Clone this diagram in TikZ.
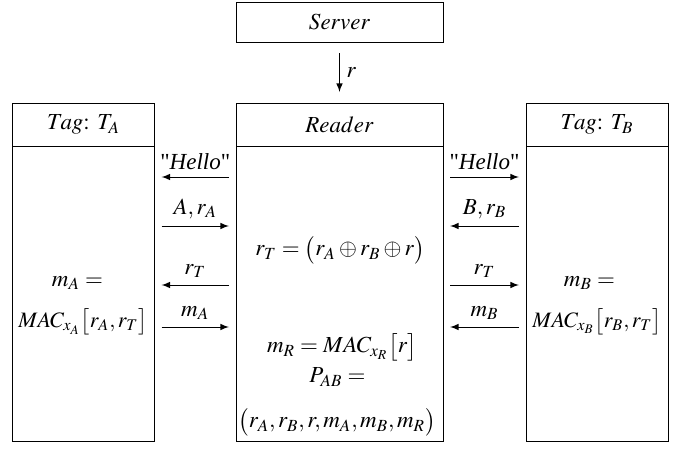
\documentclass[tikz,border=0pt]{standalone}
\usepackage{mathptmx}
\usepackage[no-math]{fontspec}
\setmainfont{Liberation Serif}
\newfontfamily\quotefont{Liberation Serif}
\usetikzlibrary{positioning, arrows.meta}

\newcommand{\hellomsg}{{\quotefont"}\textit{Hello}{\quotefont"}}

\tikzset{
  box/.style={draw, line width=.5pt, minimum width=103.5pt, inner sep=0pt, outer sep=0pt},
  tagbox/.style={box, minimum width=71pt},
  head/.style={minimum height=21.5pt},
  eqn/.style={inner sep=0pt},
  msg/.style={->, line width=.5pt, shorten >=3.5pt, shorten <=3.5pt}
}

\begin{document}
\begin{tikzpicture}[>=latex, x=.5pt, y=-.5pt, font=\fontsize{11.5}{13}\selectfont]
\useasboundingbox (0,0) rectangle (686,450);
\node[box, minimum height=20pt] (server) at (339.5,22) {$Server$};
\node[box, head] (rdHead) at (339.5,124.5) {$Reader$};
\node[box, minimum height=147.5pt, below=0pt of rdHead] (rdBody) {};
\node[tagbox, head] (tagA) at (83.5,124.5) {$Tag{:}\;\, T_A$};
\node[tagbox, minimum height=147.5pt, below=0pt of tagA] (bodyA) {};
\node[tagbox, head] (tagB) at (597,124.5) {$Tag{:}\;\, T_B$};
\node[tagbox, minimum height=147.5pt, below=0pt of tagB] (bodyB) {};

\draw[msg, shorten >=5.5pt, shorten <=5.5pt] (server) -- (rdHead) node[midway, right] {$r$};

% reader <-> tag A
\draw[msg] (rdBody.west |- 0,177) -- (bodyA.east |- 0,177) node[midway, above] {\hellomsg};
\draw[msg] (bodyA.east |- 0,226) -- (rdBody.west |- 0,226) node[midway, above] {$A,r_A$};
\draw[msg] (rdBody.west |- 0,285) -- (bodyA.east |- 0,285) node[midway, above] {$r_T$};
\draw[msg] (bodyA.east |- 0,327) -- (rdBody.west |- 0,327) node[midway, above] {$m_A$};

% reader <-> tag B
\draw[msg] (rdBody.east |- 0,177) -- (bodyB.west |- 0,177) node[midway, above] {\hellomsg};
\draw[msg] (bodyB.west |- 0,226) -- (rdBody.east |- 0,226) node[midway, above] {$B,r_B$};
\draw[msg] (rdBody.east |- 0,285) -- (bodyB.west |- 0,285) node[midway, above] {$r_T$};
\draw[msg] (bodyB.west |- 0,327) -- (rdBody.east |- 0,327) node[midway, above] {$m_B$};

\node[eqn] (mA) at (80,283) {$m_A={}$};
\node[eqn, font=\fontsize{11}{13}\selectfont] (macA) at (83,322) {$MAC_{x_A}\bigl[r_A,r_T\bigr]$};
\node[eqn] (mB) at (592,283) {$m_B={}$};
\node[eqn, font=\fontsize{11}{13}\selectfont] (macB) at (597,322) {$MAC_{x_B}\bigl[r_B,r_T\bigr]$};

\node[eqn] (rT) at (340,250) {$r_T=\bigl(r_A\oplus r_B\oplus r\bigr)$};
\node[eqn] (mR) at (342,347) {$m_R=MAC_{x_R}\bigl[r\bigr]$};
\node[eqn] (pAB) at (340,377) {$P_{AB}={}$};
\node[eqn] (tup) at (337,422) {$\bigl(r_A,r_B,r,m_A,m_B,m_R\bigr)$};
\end{tikzpicture}
\end{document}
